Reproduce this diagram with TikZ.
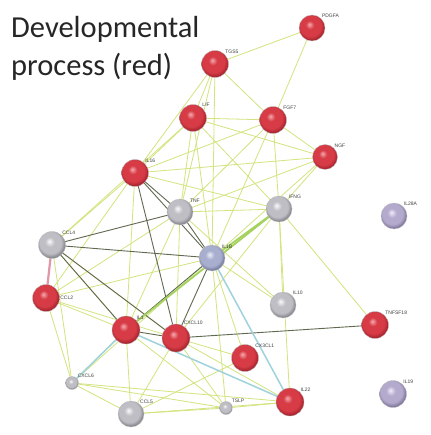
\documentclass[tikz,border=0pt]{standalone}
\usepackage{fontspec}
\setmainfont{Carlito}
\newfontfamily\lblfont{Liberation Sans}
\definecolor{rhl}{RGB}{245,170,175}
\definecolor{rmain}{RGB}{215,60,70}
\definecolor{rdark}{RGB}{165,35,45}
\definecolor{ghl}{RGB}{250,250,252}
\definecolor{gmain}{RGB}{190,190,196}
\definecolor{gdark}{RGB}{130,130,138}
\definecolor{phl}{RGB}{240,236,248}
\definecolor{pmain}{RGB}{180,170,205}
\definecolor{pdark}{RGB}{125,115,150}
\definecolor{bhl}{RGB}{235,238,250}
\definecolor{bmain}{RGB}{168,174,205}
\definecolor{bdark}{RGB}{115,120,155}
\pgfdeclareradialshading{redball}{\pgfpoint{-5bp}{7bp}}{color(0bp)=(rhl); color(8bp)=(rmain); color(20bp)=(rmain); color(27bp)=(rdark); color(50bp)=(rdark)}
\pgfdeclareradialshading{grayball}{\pgfpoint{-5bp}{7bp}}{color(0bp)=(ghl); color(9bp)=(gmain); color(20bp)=(gmain); color(27bp)=(gdark); color(50bp)=(gdark)}
\pgfdeclareradialshading{purball}{\pgfpoint{-5bp}{7bp}}{color(0bp)=(phl); color(9bp)=(pmain); color(20bp)=(pmain); color(27bp)=(pdark); color(50bp)=(pdark)}
\pgfdeclareradialshading{blueball}{\pgfpoint{-5bp}{7bp}}{color(0bp)=(bhl); color(9bp)=(bmain); color(20bp)=(bmain); color(27bp)=(bdark); color(50bp)=(bdark)}
\begin{document}
\begin{tikzpicture}[x=1pt,y=-1pt,
  prot/.style={circle,minimum size=27pt,inner sep=0pt,draw=black!25,line width=0.3pt},
  redp/.style={prot,shading=redball},
  grayp/.style={prot,shading=grayball},
  purp/.style={prot,shading=purball},
  bluep/.style={prot,shading=blueball},
  lbl/.style={font=\lblfont\fontsize{5}{6}\selectfont,text=black!75,inner sep=0.5pt},
  ye/.style={draw={rgb,255:red,210;green,228;blue,125},line width=0.8pt},
  dk/.style={draw={rgb,255:red,95;green,105;blue,80},line width=0.9pt},
  tl/.style={draw={rgb,255:red,160;green,210;blue,220},line width=1.5pt},
  gr/.style={draw={rgb,255:red,165;green,210;blue,95},line width=1.8pt},
  pk/.style={draw={rgb,255:red,225;green,150;blue,170},line width=2.2pt}
]
\useasboundingbox (0,0) rectangle (430,435);
\fill[white] (0,0) rectangle (430,435);
\node[font=\fontsize{30.5}{38}\selectfont,align=left,anchor=north west,inner sep=0pt,text=black!85] (title) at (11,16) {Developmental\\process (red)};

\coordinate (cPDGFA) at (312,28);
\coordinate (cTGS) at (215,64);
\coordinate (cLIF) at (193,118);
\coordinate (cFGF) at (273,120);
\coordinate (cNGF) at (325,157);
\coordinate (cIL16) at (135,173);
\coordinate (cTNF) at (180,212);
\coordinate (cIFNG) at (279,209);
\coordinate (cIL28) at (394,216);
\coordinate (cCCL4) at (52,245);
\coordinate (cIL1B) at (212,258);
\coordinate (cCCL2) at (46,298);
\coordinate (cIL1) at (126,330);
\coordinate (cCXCL10) at (176,338);
\coordinate (cIL10) at (283,305);
\coordinate (cTNFSF) at (375,325);
\coordinate (cCX3) at (245,358);
\coordinate (cIL22) at (290,402);
\coordinate (cIL19) at (393,394);
\coordinate (cCXCL6) at (72,383);
\coordinate (cCCL5) at (131,414);
\coordinate (cTSLP) at (226,408);

\foreach \a/\b in {TGS/PDGFA,PDGFA/FGF,TGS/LIF,TGS/FGF,TGS/IL16,TGS/TNF,TGS/IL1B,
  LIF/FGF,LIF/IL16,LIF/TNF,LIF/IFNG,LIF/NGF,LIF/IL1B,LIF/CCL4,
  FGF/IL16,FGF/TNF,FGF/NGF,FGF/IFNG,FGF/IL1B,
  NGF/IFNG,NGF/IL1B,NGF/TNF,NGF/IL16,
  IL16/CCL4,IL16/CCL2,IL16/IFNG,IL16/IL1,
  TNF/IFNG,TNF/CCL2,TNF/IL1,TNF/IL10,TNF/CXCL10,
  IFNG/IL10,IFNG/IL1,IFNG/CXCL10,IFNG/TNFSF,IFNG/IL22,
  CCL4/IL1,CCL4/CXCL10,CCL4/CXCL6,
  CCL2/IL1B,CCL2/CXCL10,CCL2/CXCL6,CCL2/IL1,
  IL1B/IL10,IL1B/CX3,IL1B/CXCL6,IL1B/TSLP,
  IL1/CXCL6,IL1/CCL5,IL1/TSLP,
  CXCL10/CX3,CXCL10/CCL5,CXCL10/TSLP,CXCL10/IL22,
  CXCL6/CCL5,CCL5/TSLP,CCL5/IL22,CCL5/CX3,TSLP/IL22,CXCL6/TSLP,CXCL6/IL22}
  {\draw[ye] (c\a) -- (c\b);}
\foreach \a/\b in {IL16/TNF,IL16/IL1B,IL16/CXCL10,TNF/IL1B,TNF/CCL4,CCL4/IL1B,CCL4/IL1,
  IL1B/IL1,IL1B/CXCL10,IL1/CXCL10,CXCL10/TNFSF,CCL4/CXCL10}
  {\draw[dk] (c\a) -- (c\b);}
\draw[gr] (cIFNG) -- (cIL1B);
\draw[gr] (cIFNG) -- (cIL1);
\draw[tl] (cIL1) -- (cIL22);
\draw[tl] (cIL1B) -- (cIL22);
\draw[tl] (cIL1) -- (cCXCL6);
\draw[pk] (cCCL4) -- (cCCL2);

\node[redp,minimum size=26pt,label={[lbl,anchor=south west]45:PDGFA}] (PDGFA) at (cPDGFA) {};
\node[redp,label={[lbl,anchor=south west]45:TGS5}] (TGS) at (cTGS) {};
\node[redp,label={[lbl,anchor=south west]50:LIF}] (LIF) at (cLIF) {};
\node[redp,label={[lbl,anchor=south west]45:FGF7}] (FGF) at (cFGF) {};
\node[redp,minimum size=25pt,label={[lbl,anchor=south west]45:NGF}] (NGF) at (cNGF) {};
\node[redp,label={[lbl,anchor=south west]45:IL16}] (IL16) at (cIL16) {};
\node[grayp,minimum size=26pt,label={[lbl,anchor=south west]45:TNF}] (TNF) at (cTNF) {};
\node[grayp,minimum size=26pt,label={[lbl,anchor=south west]45:IFNG}] (IFNG) at (cIFNG) {};
\node[purp,minimum size=26pt,label={[lbl,anchor=south west]45:IL28A}] (IL28) at (cIL28) {};
\node[grayp,label={[lbl,anchor=south west]45:CCL4}] (CCL4) at (cCCL4) {};
\node[bluep,minimum size=26pt,label={[lbl,anchor=south west]45:IL1B}] (IL1B) at (cIL1B) {};
\node[redp,label={[lbl,anchor=west]0:CCL2}] (CCL2) at (cCCL2) {};
\node[redp,minimum size=28pt,label={[lbl,anchor=south west]45:IL1}] (IL1) at (cIL1) {};
\node[redp,minimum size=28pt,label={[lbl,anchor=south west]60:CXCL10}] (CXCL10) at (cCXCL10) {};
\node[grayp,minimum size=26pt,label={[lbl,anchor=south west]45:IL10}] (IL10) at (cIL10) {};
\node[redp,label={[lbl,anchor=south west]45:TNFSF18}] (TNFSF) at (cTNFSF) {};
\node[redp,label={[lbl,anchor=south west]45:CX3CL1}] (CX3) at (cCX3) {};
\node[redp,minimum size=28pt,label={[lbl,anchor=south west]45:IL22}] (IL22) at (cIL22) {};
\node[purp,minimum size=27pt,label={[lbl,anchor=south west]45:IL19}] (IL19) at (cIL19) {};
\node[grayp,minimum size=13pt,label={[lbl,anchor=south west]40:CXCL6}] (CXCL6) at (cCXCL6) {};
\node[grayp,minimum size=26pt,label={[lbl,anchor=south west]50:CCL5}] (CCL5) at (cCCL5) {};
\node[grayp,minimum size=13pt,label={[lbl,anchor=south west]40:TSLP}] (TSLP) at (cTSLP) {};
\end{tikzpicture}
\end{document}
